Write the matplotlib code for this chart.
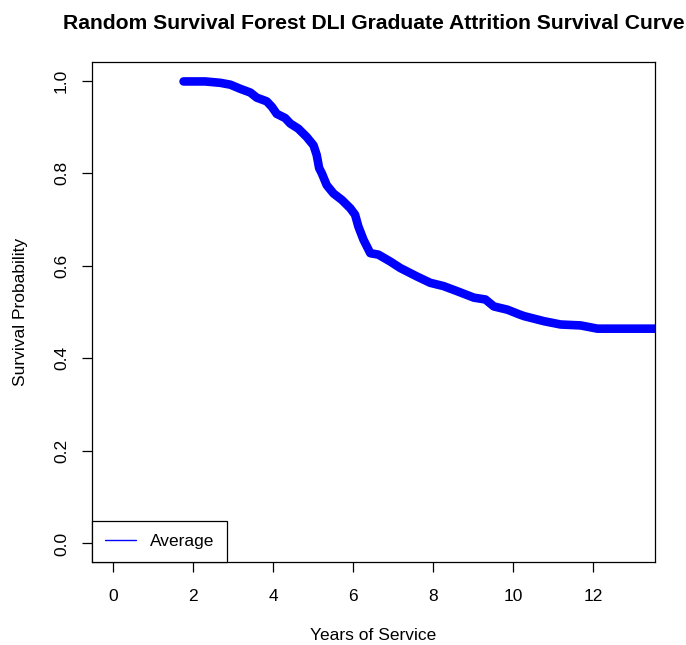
import matplotlib
matplotlib.use("Agg")
import matplotlib.pyplot as plt

# Average survival curve from the random survival forest
years = [1.76, 2.30, 2.68, 2.93, 3.18, 3.43, 3.59, 3.84, 3.97, 4.09, 4.30, 4.43,
         4.63, 4.84, 5.01, 5.09, 5.15, 5.22, 5.34, 5.51, 5.72, 5.93, 6.05, 6.13,
         6.26, 6.43, 6.63, 6.93, 7.18, 7.59, 7.93, 8.26, 8.60, 9.02, 9.31, 9.52,
         9.86, 10.15, 10.28, 10.78, 11.19, 11.69, 12.11, 13.60]
survival = [0.998, 0.998, 0.995, 0.991, 0.982, 0.974, 0.963, 0.955, 0.943, 0.928,
            0.919, 0.907, 0.896, 0.878, 0.860, 0.839, 0.811, 0.799, 0.774, 0.756,
            0.742, 0.724, 0.710, 0.685, 0.656, 0.627, 0.624, 0.609, 0.595, 0.577,
            0.563, 0.556, 0.545, 0.531, 0.527, 0.512, 0.505, 0.495, 0.491, 0.480,
            0.473, 0.471, 0.464, 0.464]

x_ticks = [0, 2, 4, 6, 8, 10, 12]
y_ticks = [0.0, 0.2, 0.4, 0.6, 0.8, 1.0]
y_tick_labels = ["0.0", "0.2", "0.4", "0.6", "0.8", "1.0"]

plt.rcParams["font.family"] = ["Liberation Sans", "DejaVu Sans"]

W, H = 686, 645
FS = 12.5
fig = plt.figure(figsize=(W / 100, H / 100), dpi=100)
ax = fig.add_axes([92 / W, (H - 562) / H, (655 - 92) / W, (562 - 62) / H])

ax.plot(years, survival, color="#0000ff", lw=6.2, solid_capstyle="round",
        solid_joinstyle="round", label="Average")

ax.set_xlim(-0.53, 13.55)
ax.set_ylim(-0.04, 1.04)
ax.set_xticks(x_ticks)
ax.set_yticks(y_ticks)
ax.set_yticklabels(y_tick_labels, rotation=90, va="center")

for s in ax.spines.values():
    s.set_color("black")
    s.set_linewidth(0.9)
ax.tick_params(axis="both", length=7.5, width=0.9, color="black",
               labelsize=FS, labelcolor="black")
ax.tick_params(axis="x", pad=12)
ax.tick_params(axis="y", pad=9)

ax.set_title("Random Survival Forest DLI Graduate Attrition Survival Curve",
             fontsize=15.2, fontweight="bold", pad=24)
ax.set_xlabel("Years of Service", fontsize=FS, va="center")
ax.xaxis.set_label_coords(0.5, (562 - 635) / 500)
ax.set_ylabel("Survival Probability", fontsize=FS, va="center")
ax.yaxis.set_label_coords((21 - 92) / 563, 0.5)

leg = ax.legend(loc="lower left", borderaxespad=0, fancybox=False,
                edgecolor="black", framealpha=1, fontsize=FS,
                handlelength=1.8, handletextpad=0.8, borderpad=0.74)
leg.get_frame().set_linewidth(0.9)
for ln in leg.get_lines():
    ln.set_linewidth(1.0)

fig.savefig("out.png", dpi=100, facecolor="white")
